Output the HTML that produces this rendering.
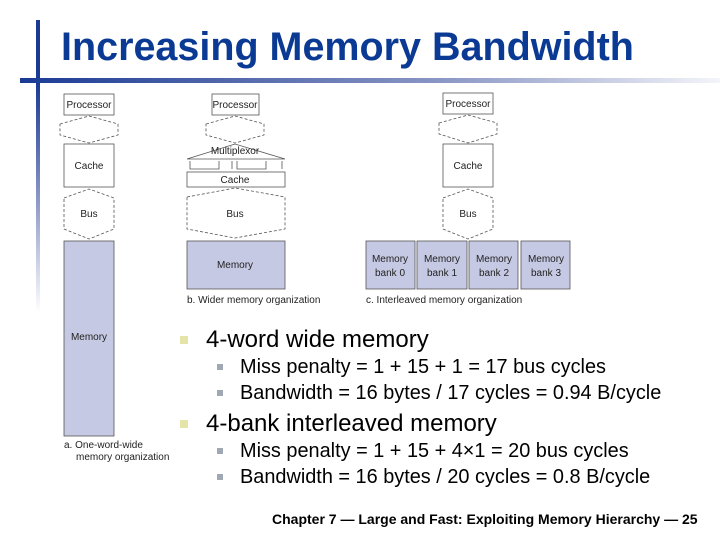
<!DOCTYPE html>
<html><head><style>
body{margin:0;width:720px;height:540px;overflow:hidden;background:#fff;font-family:"Liberation Sans",sans-serif}
</style></head><body>
<svg width="720" height="540" xmlns="http://www.w3.org/2000/svg" font-family="Liberation Sans, sans-serif">
<defs>
<linearGradient id="h" x1="0" x2="1" y1="0" y2="0"><stop offset="0" stop-color="#1a3a94"/><stop offset="0.6" stop-color="#8a96c4"/><stop offset="1" stop-color="#f4f5fa"/></linearGradient>
<linearGradient id="v" x1="0" x2="0" y1="0" y2="1"><stop offset="0" stop-color="#1a3a94"/><stop offset="0.5" stop-color="#8a96c4"/><stop offset="1" stop-color="#ffffff"/></linearGradient>
</defs>
<rect x="36" y="20" width="4" height="58" fill="#1a3a94"/>
<rect x="36" y="83" width="4" height="230" fill="url(#v)"/>
<rect x="20" y="78" width="700" height="5" fill="url(#h)"/>
<text x="61" y="60" font-size="39.5" font-weight="bold" fill="#0b3a94">Increasing Memory Bandwidth</text>

<g stroke="#555" stroke-width="0.8" fill="#fff" font-size="10" text-anchor="middle">
<rect x="64" y="94" width="50" height="21"/><text x="89" y="108" stroke="none" fill="#222">Processor</text>
<polygon points="60,124 89,116 118,124 118,135 89,143 60,135" stroke-dasharray="3,2"/>
<rect x="64" y="144" width="50" height="43"/><text x="89" y="169" stroke="none" fill="#222">Cache</text>
<polygon points="64,198 89,189 114,198 114,229 89,239 64,229" stroke-dasharray="3,2"/>
<text x="89" y="217" stroke="none" fill="#222">Bus</text>
<rect x="64" y="241" width="50" height="195" fill="#c6c9e3"/><text x="89" y="340" stroke="none" fill="#222">Memory</text>
<rect x="212" y="94" width="47" height="21"/><text x="235" y="108" stroke="none" fill="#222">Processor</text>
<polygon points="206,124 235,116 264,124 264,135 235,143 206,135" stroke-dasharray="3,2"/>
<polygon points="187,159 235,144 285,159"/><text x="235" y="154" stroke="none" fill="#222">Multiplexor</text>
<path d="M190,161 V169 H219 V161 M232,161 V169 M237,161 V169 H266 V161 M282,161 V169" fill="none"/>
<rect x="187" y="172" width="98" height="15"/><text x="235" y="183" stroke="none" fill="#222">Cache</text>
<polygon points="187,197 235,188 285,197 285,229 235,238 187,229" stroke-dasharray="3,2"/>
<text x="235" y="217" stroke="none" fill="#222">Bus</text>
<rect x="187" y="241" width="98" height="48" fill="#c6c9e3"/><text x="235" y="268" stroke="none" fill="#222">Memory</text>
<rect x="443" y="93" width="50" height="21"/><text x="468" y="107" stroke="none" fill="#222">Processor</text>
<polygon points="439,123 468,115 497,123 497,134 468,143 439,134" stroke-dasharray="3,2"/>
<rect x="443" y="144" width="50" height="43"/><text x="468" y="169" stroke="none" fill="#222">Cache</text>
<polygon points="443,198 468,189 493,198 493,229 468,239 443,229" stroke-dasharray="3,2"/>
<text x="468" y="217" stroke="none" fill="#222">Bus</text>
<rect x="366" y="241" width="49" height="48" fill="#c6c9e3"/>
<rect x="417" y="241" width="50" height="48" fill="#c6c9e3"/>
<rect x="469" y="241" width="49" height="48" fill="#c6c9e3"/>
<rect x="521" y="241" width="49" height="48" fill="#c6c9e3"/>
<g stroke="none" fill="#222">
<text x="390" y="262">Memory</text><text x="390" y="276">bank 0</text>
<text x="442" y="262">Memory</text><text x="442" y="276">bank 1</text>
<text x="494" y="262">Memory</text><text x="494" y="276">bank 2</text>
<text x="546" y="262">Memory</text><text x="546" y="276">bank 3</text>
</g>
</g>
<g font-size="10" fill="#222">
<text x="187" y="303">b. Wider memory organization</text>
<text x="366" y="303">c. Interleaved memory organization</text>
<text x="64" y="448">a. One-word-wide</text>
<text x="76" y="460">memory organization</text>
</g>
<rect x="180" y="336" width="8" height="8" fill="#e4e4a8"/>
<rect x="180" y="420" width="8" height="8" fill="#e4e4a8"/>
<g fill="#a0a8b4"><rect x="217" y="364" width="6" height="6"/><rect x="217" y="390" width="6" height="6"/><rect x="217" y="448" width="6" height="6"/><rect x="217" y="474" width="6" height="6"/></g>
<g fill="#000">
<text x="206" y="347" font-size="24">4-word wide memory</text>
<text x="240" y="373" font-size="19.9">Miss penalty = 1 + 15 + 1 = 17 bus cycles</text>
<text x="240" y="399" font-size="19.9">Bandwidth = 16 bytes / 17 cycles = 0.94 B/cycle</text>
<text x="206" y="431" font-size="24">4-bank interleaved memory</text>
<text x="240" y="457" font-size="19.9">Miss penalty = 1 + 15 + 4×1 = 20 bus cycles</text>
<text x="240" y="483" font-size="19.9">Bandwidth = 16 bytes / 20 cycles = 0.8 B/cycle</text>
<text x="272" y="524" font-size="14" font-weight="bold">Chapter 7 — Large and Fast: Exploiting Memory Hierarchy — 25</text>
</g>
</svg>
</body></html>
